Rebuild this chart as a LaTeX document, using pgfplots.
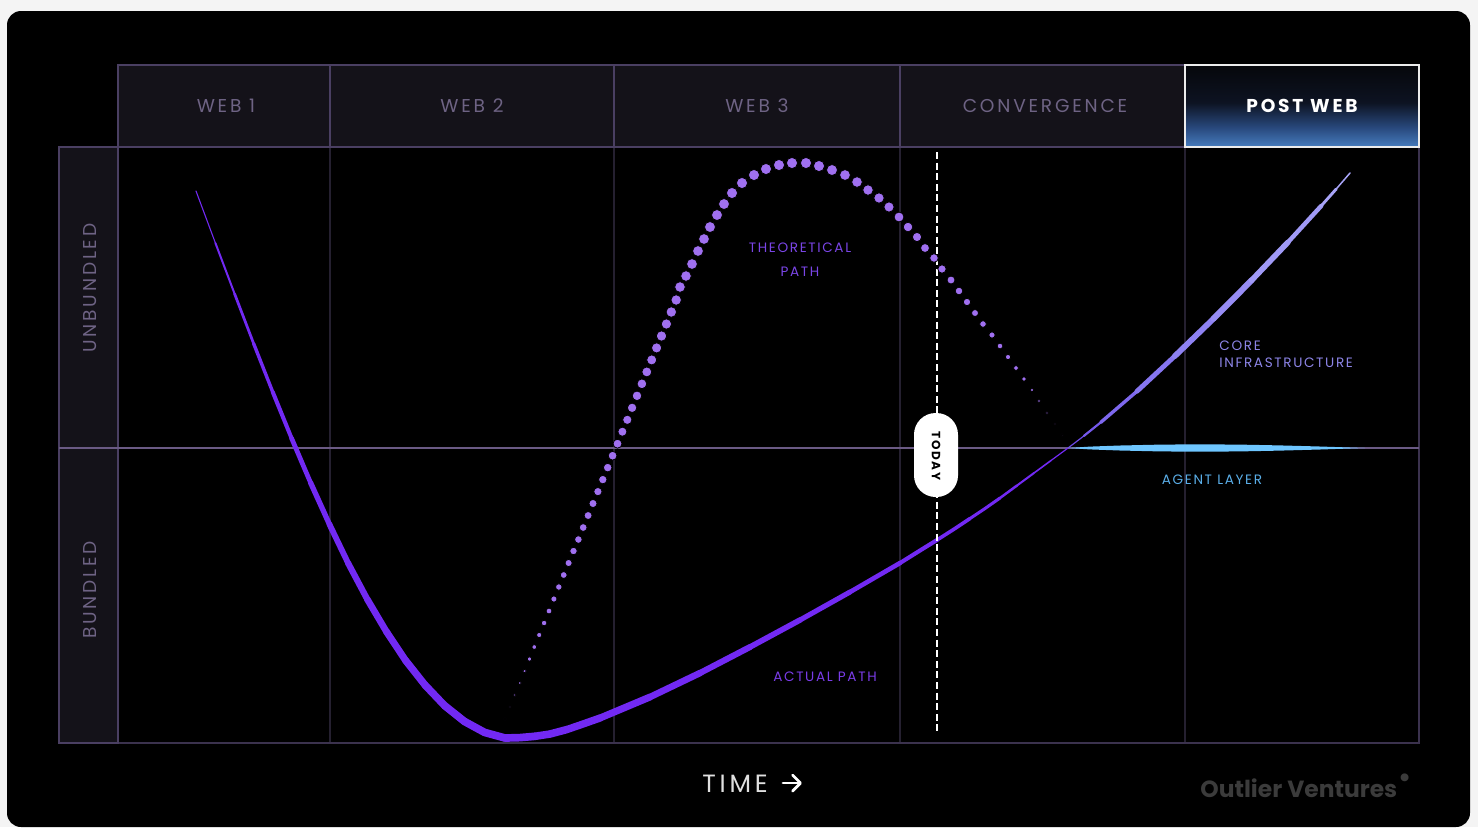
\documentclass[border=0pt]{standalone}
\usepackage{pgfplots}
\usepackage{pgfplotstable}
\pgfplotsset{compat=1.18}
\usepackage{fontspec}
\setmainfont{Poppins}
\definecolor{bgout}{HTML}{F4F4F4}
\definecolor{cellfill}{HTML}{141219}
\definecolor{cellborder}{HTML}{4A3F62}
\definecolor{gridfaint}{HTML}{252030}
\definecolor{midline}{HTML}{6A5A84}
\definecolor{headtext}{HTML}{6E6384}
\definecolor{actual}{HTML}{7229F3}
\definecolor{theo}{HTML}{A070F0}
\definecolor{agent}{HTML}{6EC6FF}
\definecolor{labtheo}{HTML}{7A45E6}
\definecolor{labact}{HTML}{7A3CE8}
\definecolor{labcore}{HTML}{8C84E6}
\definecolor{labagent}{HTML}{5AAEE8}
\definecolor{logo}{HTML}{3B3B3B}
\definecolor{pwtop}{HTML}{06070B}
\definecolor{pwmid}{HTML}{0D1322}
\definecolor{pwblue}{HTML}{28487C}
\definecolor{pwbot}{HTML}{467CBE}
\definecolor{c1}{HTML}{6A48E6}
\definecolor{c2}{HTML}{7458EA}
\definecolor{c3}{HTML}{7E68EE}
\definecolor{c4}{HTML}{8676F0}
\definecolor{c5}{HTML}{8E82F2}
\definecolor{c6}{HTML}{978DF4}
\definecolor{c7}{HTML}{A09AF6}
\definecolor{c8}{HTML}{A8A4F8}
\pgfdeclareverticalshading{pwshade}{100bp}{color(0bp)=(pwbot); color(25bp)=(pwbot); color(37bp)=(pwblue); color(52bp)=(pwmid); color(75bp)=(pwtop); color(100bp)=(pwtop)}
\newcommand\hdr{\fontsize{9.3}{11}\selectfont\addfontfeature{LetterSpace=15}}
\newcommand\lab{\fontsize{6.8}{8}\selectfont\addfontfeature{LetterSpace=12}}
\pgfplotstableread{
x y d
505 719 0.8
510 707 1.0
514.8 695 1.3
519.7 683 1.6
524.6 671 1.9
529.5 659 2.2
534.3 647 2.5
539.2 635 2.8
544.1 623 3.0
549 611 3.2
553.9 599 3.4
558.8 587 3.6
563.7 575 3.8
568.6 563 4.0
573.5 551 4.2
578.4 539.5 4.3
583.2 527.5 4.4
588.1 515.5 4.5
593 503.5 4.6
597.9 491.6 4.7
602.8 479.6 4.8
607.7 467.6 4.9
612.6 455.7 5.0
617.5 443.7 5.1
622.4 431.7 5.2
627.3 419.8 5.3
632.1 407.8 5.4
637 395.8 5.5
641.9 383.8 5.6
646.8 371.9 5.7
651.7 359.9 5.8
656.6 347.9 5.9
661.5 336 6.0
666.4 324 6.0
671.3 312 6.1
676.2 300 6.1
680 287 6.2
686 276 6.2
692 264 6.3
698 251 6.3
704 239 6.3
710 227 6.4
717 215 6.4
724 204 6.4
732 193 6.5
742 183 6.5
754 175 6.5
766 169 6.5
779 165 6.5
792 163 6.5
806 163 6.5
819 166 6.5
832 170 6.4
845 175 6.3
857 182 6.2
868 190 6.1
879 198 6.0
889 207 5.9
899 217 5.7
908 227 5.5
917 237 5.3
925 248 5.1
934 258 4.9
942 269 4.7
951 280 4.5
959 291 4.3
967 302 4.1
975 313 3.9
983 324 3.7
992 335 3.4
1000 346 3.1
1008 357 2.8
1016 368 2.5
1024 379 2.2
1032 390 1.9
1039 401 1.6
1047 413 1.3
1055 424 1.0
1062 435 0.8
}\theotable
\begin{document}
\begin{tikzpicture}
\begin{axis}[
  scale only axis, width=739pt, height=413.5pt,
  xmin=0, xmax=1478, ymin=0, ymax=827, y dir=reverse,
  hide axis, clip=false,
  act/.style={color=actual, line cap=round, line join=round},
]
% background
\fill[bgout] (axis cs:0,0) rectangle (axis cs:1478,827);
\fill[black, rounded corners=7pt] (axis cs:7,11) rectangle (axis cs:1470,827);
% header cells
\fill[cellfill] (axis cs:118,65) rectangle (axis cs:1185,147);
\fill[cellfill] (axis cs:59,147) rectangle (axis cs:118,743);
% faint grid in main area
\draw[gridfaint, line width=0.6pt] (axis cs:330,147) -- (axis cs:330,743);
\draw[gridfaint, line width=0.6pt] (axis cs:614,147) -- (axis cs:614,743);
\draw[gridfaint, line width=0.6pt] (axis cs:900,147) -- (axis cs:900,743);
\draw[gridfaint, line width=0.6pt] (axis cs:1185,147) -- (axis cs:1185,743);
\draw[cellborder!80!black, line width=0.6pt] (axis cs:1419,147) -- (axis cs:1419,743) -- (axis cs:59,743);
% header borders
\draw[cellborder, line width=0.6pt] (axis cs:118,65) rectangle (axis cs:1185,147);
\draw[cellborder, line width=0.6pt] (axis cs:330,65) -- (axis cs:330,147);
\draw[cellborder, line width=0.6pt] (axis cs:614,65) -- (axis cs:614,147);
\draw[cellborder, line width=0.6pt] (axis cs:900,65) -- (axis cs:900,147);
\draw[cellborder, line width=0.6pt] (axis cs:59,147) rectangle (axis cs:118,743);
\draw[cellborder, line width=0.6pt] (axis cs:118,147) -- (axis cs:1419,147);
% post web cell
\shade[shading=pwshade] (axis cs:1185,65) rectangle (axis cs:1419,147);
\draw[white!85!gray, line width=0.8pt] (axis cs:1185,65) rectangle (axis cs:1419,147);
% mid line
\draw[midline, line width=1pt] (axis cs:59,448) -- (axis cs:1419,448);

% actual path, left branch (variable width)
\addplot[act, line width=0.55pt] coordinates {(196,191)(215.4,243.0)};
\addplot[act, line width=1.0pt] coordinates {(215.4,243.0)(234.6,293.8)};
\addplot[act, line width=1.37pt] coordinates {(234.6,293.8)(253.7,343.7)};
\addplot[act, line width=1.7pt] coordinates {(253.7,343.7)(272.7,391.9)};
\addplot[act, line width=2.03pt] coordinates {(272.7,391.9)(291.6,438.3)};
\addplot[act, line width=2.35pt] coordinates {(291.6,438.3)(310.5,482.5)};
\addplot[act, line width=2.65pt] coordinates {(310.5,482.5)(329.4,524.2)};
\addplot[act, line width=2.9pt] coordinates {(329.4,524.2)(348.2,563.3)};
\addplot[act, line width=3.1pt] coordinates {(348.2,563.3)(367.2,599.1)};
\addplot[act, line width=3.3pt] coordinates {(367.2,599.1)(386.3,631.4)};
\addplot[act, line width=3.45pt] coordinates {(386.3,631.4)(405.5,660.3)};
\addplot[act, line width=3.6pt] coordinates {(405.5,660.3)(425.1,685.1)};
\addplot[act, line width=3.7pt] coordinates {(425.1,685.1)(444.6,705.6)};
\addplot[act, line width=3.8pt] coordinates {(444.6,705.6)(464.4,721.4)};
\addplot[act, line width=3.85pt] coordinates {(464.4,721.4)(484.6,732.4)(505,738)};
% actual path, right branch
\addplot[act, line width=3.85pt] coordinates {(505,738)(520,737.6)(535,736.3)};
\addplot[act, line width=3.78pt] coordinates {(535,736.3)(550,734)(567,729.5)};
\addplot[act, line width=3.68pt] coordinates {(567,729.5)(583,724)(600,718)};
\addplot[act, line width=3.5pt] coordinates {(600,718)(625,707.5)(650,697)};
\addplot[act, line width=3.28pt] coordinates {(650,697)(675,685)(700,673)};
\addplot[act, line width=3.05pt] coordinates {(700,673)(725,660)(750,647)};
\addplot[act, line width=2.8pt] coordinates {(750,647)(775,633.5)(800,620)};
\addplot[act, line width=2.55pt] coordinates {(800,620)(825,606)(850,592)};
\addplot[act, line width=2.3pt] coordinates {(850,592)(875,577.5)(900,563)};
\addplot[act, line width=2.05pt] coordinates {(900,563)(920,550.5)(937,540)};
\addplot[act, line width=1.8pt] coordinates {(937,540)(955,528.5)(970,518.5)};
\addplot[act, line width=1.52pt] coordinates {(970,518.5)(985,508.5)(1000,498)};
\addplot[act, line width=1.25pt] coordinates {(1000,498)(1017,485.5)};
\addplot[act, line width=1.02pt] coordinates {(1017,485.5)(1034,473)};
\addplot[act, line width=0.8pt] coordinates {(1034,473)(1051,460.5)};
\addplot[act, line width=0.6pt] coordinates {(1051,460.5)(1068,448)};

% core infrastructure
\addplot[act, color=c1, line width=0.6pt] coordinates {(1068,448)(1083.9,435.9)};
\addplot[act, color=c2, line width=1.1pt] coordinates {(1083.9,435.9)(1100.8,422.3)};
\addplot[act, color=c3, line width=1.7pt] coordinates {(1100.8,422.3)(1136.9,391.3)};
\addplot[act, color=c4, line width=2.4pt] coordinates {(1136.9,391.3)(1174.7,356.2)};
\addplot[act, color=c5, line width=2.85pt] coordinates {(1174.7,356.2)(1213.5,318.7)};
\addplot[act, color=c6, line width=3.0pt] coordinates {(1213.5,318.7)(1251.7,280.2)};
\addplot[act, color=c7, line width=2.8pt] coordinates {(1251.7,280.2)(1288,242.2)};
\addplot[act, color=c7, line width=2.2pt] coordinates {(1288,242.2)(1321.2,205.9)};
\addplot[act, color=c8, line width=1.45pt] coordinates {(1321.2,205.9)(1336.2,189.0)};
\addplot[act, color=c8, line width=0.75pt] coordinates {(1336.2,189.0)(1350,173)};

% agent layer lens
\addplot[fill=agent, draw=none] coordinates {(1068,448)(1090,446.6)(1120,445.5)(1160,444.6)(1200,444.3)(1240,444.6)(1280,445.4)(1320,446.5)(1365,448)(1320,449.5)(1280,450.6)(1240,451.4)(1200,451.7)(1160,451.4)(1120,450.5)(1090,449.4)} -- cycle;

% theoretical path dots
\addplot[scatter, only marks, mark=*,
  scatter/use mapped color={draw=none, fill=theo},
  visualization depends on={\thisrow{d} \as \dotd},
  scatter/@pre marker code/.append style={/tikz/mark size=\dotd*0.4+0.2}]
  table[x=x, y=y] {\theotable};

% today line
\addplot[white, line width=1pt, dash pattern=on 3.5pt off 1.8pt] coordinates {(937,152)(937,733)};
\draw[fill=white, draw=none, rounded corners=10.8pt] (axis cs:914,413) rectangle (axis cs:958,497);
\node[rotate=-90, text=black, font={\fontsize{6}{7}\selectfont\bfseries\addfontfeature{LetterSpace=15}}] at (axis cs:936,456) {TODAY};

% header text
\node[text=headtext, font=\hdr] at (axis cs:226,106) {WEB 1};
\node[text=headtext, font=\hdr] at (axis cs:472,106) {WEB 2};
\node[text=headtext, font=\hdr] at (axis cs:757,106) {WEB 3};
\node[text=headtext, font=\hdr] at (axis cs:1045,106) {CONVERGENCE};
\node[text=white, font={\fontsize{9.3}{11}\selectfont\bfseries\addfontfeature{LetterSpace=15}}] at (axis cs:1302,106) {POST WEB};
\node[text=headtext, font=\hdr, rotate=90] at (axis cs:90,288) {UNBUNDLED};
\node[text=headtext, font=\hdr, rotate=90] at (axis cs:90,590) {BUNDLED};

% labels
\node[text=labtheo, font=\lab] at (axis cs:800,248) {THEORETICAL};
\node[text=labtheo, font=\lab] at (axis cs:800,272) {PATH};
\node[text=labact, font=\lab] at (axis cs:825,677) {ACTUAL PATH};
\node[text=labcore, font=\lab, anchor=west, inner sep=0pt] at (axis cs:1219,346) {CORE};
\node[text=labcore, font=\lab, anchor=west, inner sep=0pt] at (axis cs:1219,363) {INFRASTRUCTURE};
\node[text=labagent, font=\lab] at (axis cs:1212,480) {AGENT LAYER};

% bottom
\node[text=white!88!black, font={\fontsize{12.5}{14}\selectfont\addfontfeature{LetterSpace=15}}] at (axis cs:735,784) {TIME};
\draw[white, line width=1.4pt, line cap=round, line join=round] (axis cs:783,783) -- (axis cs:800,783);
\draw[white, line width=1.4pt, line cap=round, line join=round] (axis cs:792.5,775) -- (axis cs:800.5,783) -- (axis cs:792.5,791);
\node[text=logo, font={\fontsize{11.7}{13}\selectfont\bfseries}, anchor=west, inner sep=0pt] at (axis cs:1200,788) {Outlier Ventures};
\node[text=logo, font={\fontsize{16}{16}\selectfont}, inner sep=0pt] at (axis cs:1405,781) {•};
\end{axis}
\end{tikzpicture}
\end{document}
